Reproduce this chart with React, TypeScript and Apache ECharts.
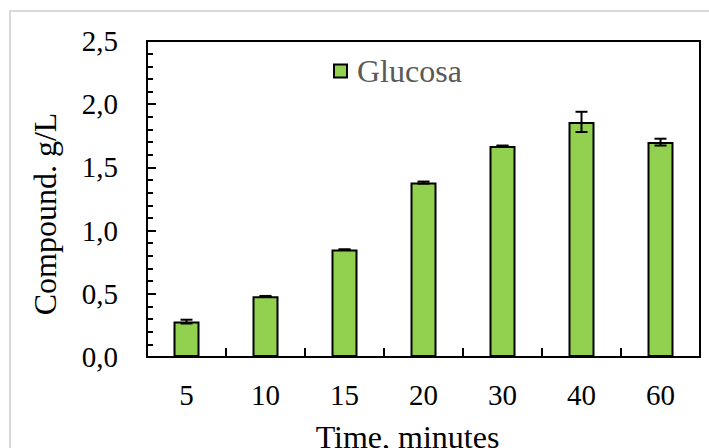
import React, { useEffect, useRef } from "react";
import * as echarts from "echarts";

const categories = ["5", "10", "15", "20", "30", "40", "60"];
const glucose = [0.28, 0.48, 0.85, 1.38, 1.67, 1.86, 1.70];
const glucoseErr = [0.015, 0.003, 0.002, 0.008, 0.003, 0.08, 0.027];
const seriesName = "Glucosa";
const yTicks = { min: 0, max: 2.5, interval: 0.5 };

const FONT = "'Liberation Serif', 'Times New Roman', serif";

export default function App() {
  const ref = useRef<HTMLDivElement>(null);
  useEffect(() => {
    if (!ref.current) return;
    const chart = echarts.init(ref.current, null, { renderer: "svg" });
    const errData = categories.map((c, i) => [i, glucose[i] - glucoseErr[i], glucose[i] + glucoseErr[i]]);
    chart.setOption({
      animation: false,
      backgroundColor: "#fff",
      graphic: [
        {
          type: "rect",
          shape: { x: 10, y: 11, width: 760, height: 500 },
          style: { fill: "none", stroke: "#d9d9d9", lineWidth: 2 },
          silent: true,
          z: -1,
        },
      ],
      grid: {
        left: 147,
        top: 41,
        right: 9,
        bottom: 91,
        containLabel: false,
        outerBoundsMode: "none",
        show: true,
        borderColor: "#000",
        borderWidth: 2,
        backgroundColor: "transparent",
      },
      legend: {
        show: true,
        left: 328,
        top: 50,
        padding: 5,
        itemWidth: 13,
        itemHeight: 13,
        itemGap: 10,
        icon: "rect",
        textStyle: { fontFamily: FONT, fontSize: 32, color: "#595959", padding: [0, 0, 0, 5] },
        data: [seriesName],
      },
      xAxis: {
        type: "category",
        data: categories,
        boundaryGap: true,
        name: "Time, minutes",
        nameLocation: "middle",
        nameGap: 64,
        nameTextStyle: { fontFamily: FONT, fontSize: 32, color: "#000", padding: [0, 32, 0, 0] },
        axisLine: { lineStyle: { color: "#000", width: 2 } },
        axisTick: { show: true, inside: true, length: 9, lineStyle: { color: "#000", width: 2 } },
        axisLabel: { fontFamily: FONT, fontSize: 29, color: "#000", margin: 23 },
      },
      yAxis: {
        type: "value",
        min: yTicks.min,
        max: yTicks.max,
        interval: yTicks.interval,
        name: "Compound. g/L",
        nameLocation: "middle",
        nameGap: 86,
        nameTextStyle: { fontFamily: FONT, fontSize: 32, color: "#000", padding: [0, 30, 0, 0] },
        axisLine: { show: true, lineStyle: { color: "#000", width: 2 } },
        axisTick: { show: true, inside: true, length: 9, lineStyle: { color: "#000", width: 2 } },
        minorTick: { show: true, splitNumber: 5, length: 6, lineStyle: { color: "#000", width: 2 } },
        splitLine: { show: false },
        axisLabel: {
          fontFamily: FONT,
          fontSize: 29,
          color: "#000",
          margin: 29,
          formatter: (v: number) => v.toFixed(1).replace(".", ","),
        },
      },
      series: [
        {
          name: seriesName,
          type: "bar",
          data: glucose,
          barWidth: 26,
          itemStyle: { color: "#92d050", borderColor: "#000", borderWidth: 2 },
        },
        {
          type: "custom",
          data: errData,
          encode: { x: 0, y: [1, 2] },
          z: 10,
          renderItem: (params: any, api: any) => {
            const x = api.value(0);
            const lo = api.coord([x, api.value(1)]);
            const hi = api.coord([x, api.value(2)]);
            const hw = 6;
            const st = { stroke: "#000", lineWidth: 2 };
            return {
              type: "group",
              children: [
                { type: "line", shape: { x1: lo[0], y1: lo[1], x2: hi[0], y2: hi[1] }, style: st },
                { type: "line", shape: { x1: lo[0] - hw, y1: lo[1], x2: lo[0] + hw, y2: lo[1] }, style: st },
                { type: "line", shape: { x1: hi[0] - hw, y1: hi[1], x2: hi[0] + hw, y2: hi[1] }, style: st },
              ],
            };
          },
        },
      ],
    });
    return () => chart.dispose();
  }, []);
  return (
    <div
      ref={ref}
      style={{ position: "absolute", left: 0, top: 0, width: 709, height: 448 }}
    />
  );
}
